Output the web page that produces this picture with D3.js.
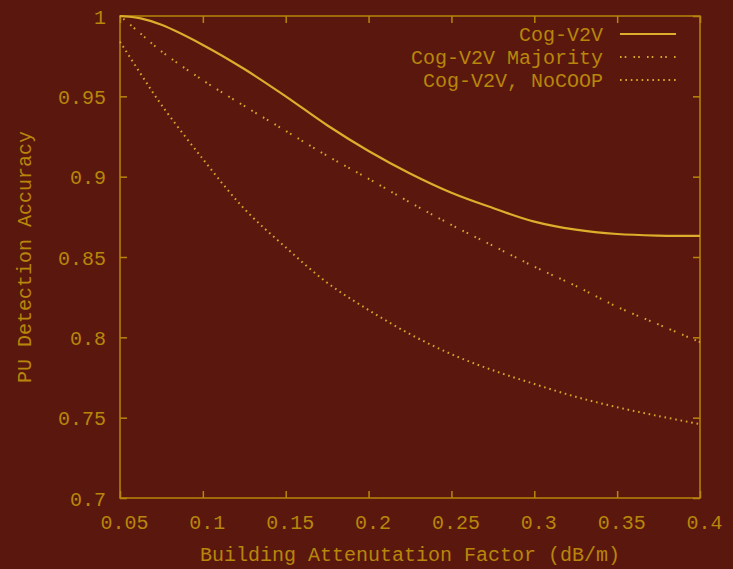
<!DOCTYPE html>
<html>
<head>
<meta charset="utf-8">
<script src="https://cdn.jsdelivr.net/npm/d3@7"></script>
<style>
  html, body { margin: 0; padding: 0; background: #5a170e; }
  svg { display: block; }
</style>
</head>
<body>
<div id="chart"></div>
<script>
// attenuation factor values (x)
var xValues = [0.05, 0.0625, 0.075, 0.1, 0.125, 0.15, 0.175, 0.2, 0.225, 0.25, 0.275, 0.3, 0.325, 0.35, 0.375, 0.4];

// detection accuracy per series
var cogV2V         = [1.0, 0.9985, 0.9945, 0.982, 0.967, 0.950, 0.932, 0.916, 0.902, 0.890, 0.8805, 0.872, 0.867, 0.8643, 0.8633, 0.8631];
var cogV2VMajority = [1.0, 0.989, 0.978, 0.960, 0.944, 0.9285, 0.913, 0.8987, 0.884, 0.870, 0.857, 0.844, 0.832, 0.819, 0.808, 0.797];
var cogV2VNoCoop   = [0.984, 0.964, 0.9447, 0.911, 0.880, 0.856, 0.834, 0.817, 0.802, 0.7895, 0.7795, 0.771, 0.763, 0.7565, 0.751, 0.746];

var seriesNames = ["Cog-V2V", "Cog-V2V Majority", "Cog-V2V, NoCOOP"];
var xTicks = [0.05, 0.1, 0.15, 0.2, 0.25, 0.3, 0.35, 0.4];
var yTicks = [0.7, 0.75, 0.8, 0.85, 0.9, 0.95, 1];

var width = 733;
var height = 569;
var marginTop = 16;
var marginRight = 33;
var marginBottom = 71;
var marginLeft = 120;

var axisColor = "#b8860b";
var lineColor = "#d9a62a";
var font = "'Liberation Mono', 'DejaVu Sans Mono', monospace";

// Create the SVG container.
const svg = d3.create("svg")
    .attr("width", width)
    .attr("height", height)
    .style("background", "#5a170e");

var x = d3.scaleLinear()
    .domain([0.05, 0.4])
    .range([marginLeft, width - marginRight]);

var y = d3.scaleLinear()
    .domain([0.7, 1])
    .range([height - marginBottom, marginTop]);

// border box
svg.append("rect")
    .attr("x", x(0.05))
    .attr("y", y(1))
    .attr("width", x(0.4) - x(0.05))
    .attr("height", y(0.7) - y(1))
    .attr("fill", "none")
    .attr("stroke", axisColor)
    .attr("stroke-width", 1.5);

// ticks, drawn inward on all four sides
const tickLen = 7;
const gx = svg.append("g")
    .attr("transform", `translate(0,${height - marginBottom})`)
    .call(d3.axisBottom(x).tickValues(xTicks).tickSize(-tickLen).tickPadding(13)
        .tickFormat(d => d3.format("")(+d.toFixed(2))));
svg.append("g")
    .attr("transform", `translate(0,${marginTop})`)
    .call(d3.axisTop(x).tickValues(xTicks).tickSize(-tickLen).tickFormat(""));

const gy = svg.append("g")
    .attr("transform", `translate(${marginLeft},0)`)
    .call(d3.axisLeft(y).tickValues(yTicks).tickSize(-tickLen).tickPadding(14)
        .tickFormat(d => d3.format("")(+d.toFixed(2))));
svg.append("g")
    .attr("transform", `translate(${width - marginRight},0)`)
    .call(d3.axisRight(y).tickValues(yTicks).tickSize(-tickLen).tickFormat(""));

svg.selectAll(".domain").remove();
svg.selectAll(".tick line").attr("stroke", axisColor).attr("stroke-width", 1.5);
svg.selectAll(".tick text")
    .attr("fill", axisColor)
    .style("font-family", font)
    .style("font-size", "20px");
gy.selectAll(".tick text").attr("dy", "0.35em");
gx.selectAll(".tick text").attr("dy", "0.9em").attr("dx", 4);

// axis titles
svg.append("text")
    .attr("x", (x(0.05) + x(0.4)) / 2)
    .attr("y", 561)
    .attr("text-anchor", "middle")
    .attr("fill", axisColor)
    .style("font-family", font)
    .style("font-size", "20px")
    .text("Building Attenutation Factor (dB/m)");

svg.append("text")
    .attr("transform", `translate(31,${(y(0.7) + y(1)) / 2}) rotate(-90)`)
    .attr("text-anchor", "middle")
    .attr("fill", axisColor)
    .style("font-family", font)
    .style("font-size", "20px")
    .text("PU Detection Accuracy");

// lines
var series = [
    { name: seriesNames[0], values: cogV2V, dash: null, w: 2.2, color: "#dcae2c" },
    { name: seriesNames[1], values: cogV2VMajority, dash: "1.6,3.1,1.6,7.2", w: 2, color: lineColor },
    { name: seriesNames[2], values: cogV2VNoCoop, dash: "1.6,3.8", w: 2, color: lineColor }
];

var line = d3.line()
    .x((d, i) => x(xValues[i]))
    .y(d => y(d))
    .curve(d3.curveCatmullRom.alpha(0.5));

series.forEach(function(s) {
    svg.append("path")
        .attr("d", line(s.values))
        .attr("fill", "none")
        .attr("stroke", s.color)
        .attr("stroke-width", s.w)
        .attr("stroke-dasharray", s.dash);
});

// legend
var legend = svg.append("g");
series.forEach(function(s, i) {
    var ly = 34 + i * 23;
    legend.append("text")
        .attr("x", 603)
        .attr("y", ly)
        .attr("dy", "0.35em")
        .attr("text-anchor", "end")
        .attr("fill", axisColor)
        .style("font-family", font)
        .style("font-size", "20px")
        .text(s.name);
    legend.append("line")
        .attr("x1", 620).attr("x2", 676)
        .attr("y1", ly).attr("y2", ly)
        .attr("stroke", s.color)
        .attr("stroke-width", s.w)
        .attr("stroke-dasharray", s.dash);
});

d3.select("#chart").node().appendChild(svg.node());
</script>
</body>
</html>
